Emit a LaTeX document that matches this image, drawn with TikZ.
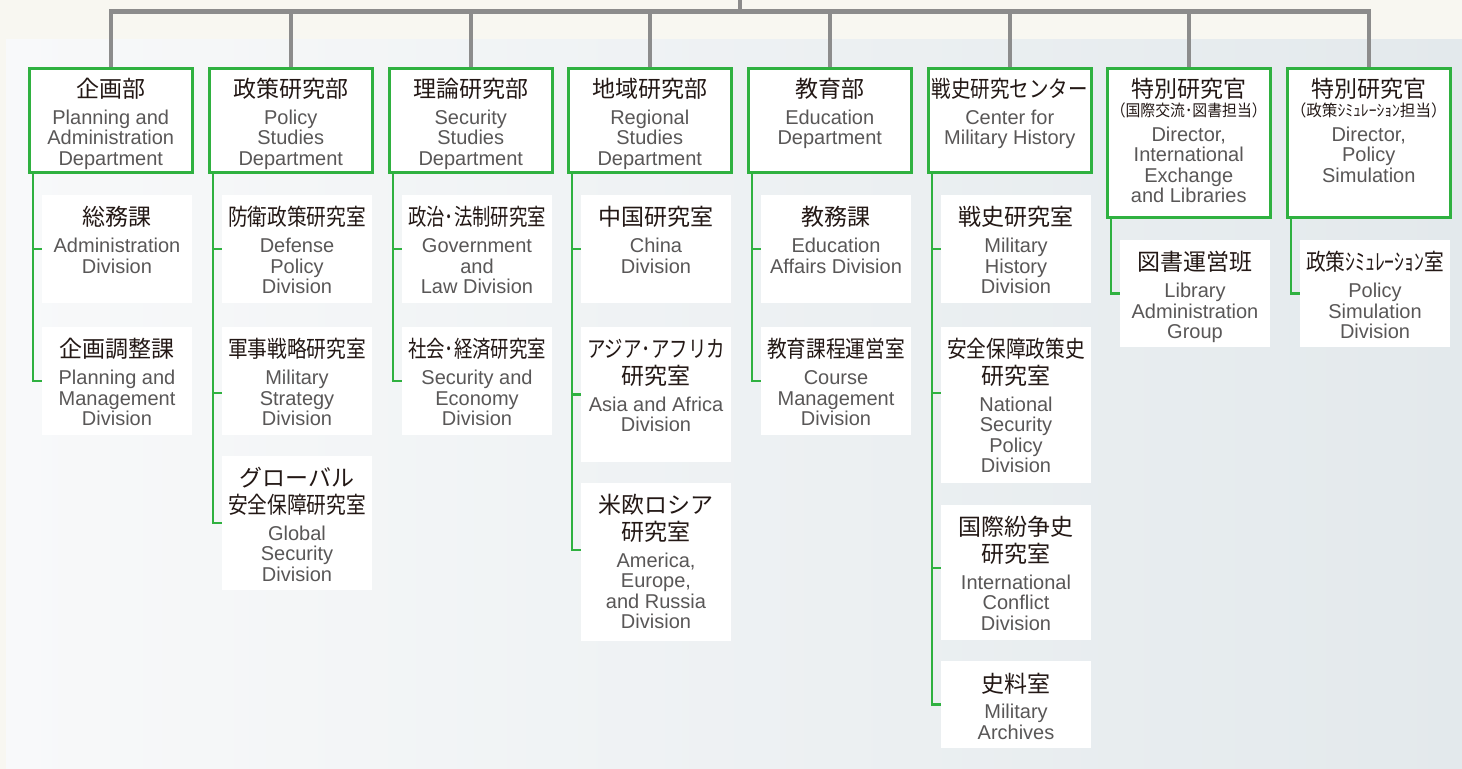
\documentclass[tikz,border=0pt]{standalone}
\usepackage{fontspec}
\usepackage{graphicx}
\setmainfont{Liberation Sans}
\newfontfamily\jpfont{Noto Sans CJK JP}
\usetikzlibrary{positioning}

\definecolor{lineGreen}{HTML}{2FB140}
\definecolor{linkGray}{HTML}{8C8C8C}
\definecolor{jpInk}{HTML}{231815}
\definecolor{enInk}{HTML}{595757}
\definecolor{paper}{HTML}{F8F7F1}
\definecolor{panelL}{HTML}{F8F9FA}
\definecolor{panelR}{HTML}{E3E9EC}

\newsavebox\fitbox
\newcommand\jpmax{69pt}
\newcommand\fitw[2]{\sbox\fitbox{#2}\ifdim\wd\fitbox>#1\relax\resizebox{#1}{\height}{\usebox\fitbox}\else\usebox\fitbox\fi}
\newcommand\jt[1]{{\jpfont\fontsize{11.5pt}{13.25pt}\selectfont\color{jpInk}\fitw{\jpmax}{#1}\par}}
\newcommand\jsub[1]{{\jpfont\fontsize{8pt}{9.5pt}\selectfont\color{jpInk}\fitw{78pt}{#1}\par}}
\newcommand\et[2][3.1pt]{\par\vspace{#1}{\fontsize{10pt}{10.25pt}\selectfont\color{enInk}#2\par}}

\begin{document}
\begin{tikzpicture}[x=0.5pt,y=-0.5pt,outer sep=0pt,
	dept/.style={draw=lineGreen, line width=1.5pt, fill=white, inner sep=0pt, anchor=north west,
		execute at begin node={\begin{minipage}[c][#1][t]{81.25pt}\centering\def\jpmax{78pt}\rule{0pt}{14.5pt}},
		execute at end node={\end{minipage}}},
	sub/.style={fill=white, inner sep=0pt,
		execute at begin node={\begin{minipage}[c][#1][t]{75pt}\centering\rule{0pt}{15.5pt}},
		execute at end node={\end{minipage}}},
	grayline/.style={draw=linkGray, line width=2.2pt, line join=miter},
	greenline/.style={draw=lineGreen, line width=1.2pt}]
	
	\useasboundingbox (0,0) rectangle (1462,769);
	\fill[paper] (0,0) rectangle (1462,769);
	\shade[left color=panelL, right color=panelR] (6,40) rectangle (1462,769);
	
	% departments
	\node (d1) [dept=52.25pt] at (29.5,68.5) {\jt{企画部}\et{Planning and\\Administration\\Department}};
	\node (d2) [dept=52.25pt] at (209.5,68.5) {\jt{政策研究部}\et{Policy\\Studies\\Department}};
	\node (d3) [dept=52.25pt] at (389.5,68.5) {\jt{理論研究部}\et{Security\\Studies\\Department}};
	\node (d4) [dept=52.25pt] at (568.5,68.5) {\jt{地域研究部}\et{Regional\\Studies\\Department}};
	\node (d5) [dept=52.25pt] at (748.5,68.5) {\jt{教育部}\et{Education\\Department}};
	\node (d6) [dept=52.25pt] at (928.5,68.5) {\jt{戦史研究センター}\et{Center for\\Military History}};
	\node (d7) [dept=74.5pt] at (1107.5,68.5) {\jt{特別研究官}\jsub{（国際交流･図書担当）}\et[2.1pt]{Director,\\International\\Exchange\\and Libraries}};
	\node (d8) [dept=74.5pt] at (1287.5,68.5) {\jt{特別研究官}\jsub{（政策ｼﾐｭﾚｰｼｮﾝ担当）}\et[2.1pt]{Director,\\Policy\\Simulation}};
	
	% divisions
	\node (s11) [sub=54pt, below=11pt of d1.south east, anchor=north east] {\jt{総務課}\et{Administration\\Division}};
	\node (s12) [sub=54pt, below=12pt of s11] {\jt{企画調整課}\et{Planning and\\Management\\Division}};
	
	\node (s21) [sub=54pt, below=11pt of d2.south east, anchor=north east] {\jt{防衛政策研究室}\et{Defense\\Policy\\Division}};
	\node (s22) [sub=54pt, below=12pt of s21] {\jt{軍事戦略研究室}\et{Military\\Strategy\\Division}};
	\node (s23) [sub=67pt, below=10.5pt of s22] {\jt{グローバル}\jt{安全保障研究室}\et{Global\\Security\\Division}};
	
	\node (s31) [sub=54pt, below=11pt of d3.south east, anchor=north east] {\jt{政治･法制研究室}\et{Government\\and\\Law Division}};
	\node (s32) [sub=54pt, below=12pt of s31] {\jt{社会･経済研究室}\et{Security and\\Economy\\Division}};
	
	\node (s41) [sub=54pt, below=11pt of d4.south east, anchor=north east] {\jt{中国研究室}\et{China\\Division}};
	\node (s42) [sub=67.5pt, below=12pt of s41] {\jt{アジア･アフリカ}\jt{研究室}\et{Asia and Africa\\Division}};
	\node (s43) [sub=79pt, below=10.5pt of s42] {\jt{米欧ロシア}\jt{研究室}\et{America,\\Europe,\\and Russia\\Division}};
	
	\node (s51) [sub=54pt, below=11pt of d5.south east, anchor=north east] {\jt{教務課}\et{Education\\Affairs Division}};
	\node (s52) [sub=54pt, below=12pt of s51] {\jt{教育課程運営室}\et{Course\\Management\\Division}};
	
	\node (s61) [sub=54pt, below=11pt of d6.south east, anchor=north east] {\jt{戦史研究室}\et{Military\\History\\Division}};
	\node (s62) [sub=78pt, below=12pt of s61] {\jt{安全保障政策史}\jt{研究室}\et{National\\Security\\Policy\\Division}};
	\node (s63) [sub=67.5pt, below=11pt of s62] {\jt{国際紛争史}\jt{研究室}\et{International\\Conflict\\Division}};
	\node (s64) [sub=43.5pt, below=10.5pt of s63] {\jt{史料室}\et{Military\\Archives}};
	
	\node (s71) [sub=53.5pt, below=11.25pt of d7.south east, anchor=north east] {\jt{図書運営班}\et{Library\\Administration\\Group}};
	\node (s81) [sub=53.5pt, below=11.25pt of d8.south east, anchor=north east] {\jt{政策ｼﾐｭﾚｰｼｮﾝ室}\et{Policy\\Simulation\\Division}};
	
	% gray bus
	\coordinate (root) at (740,0);
	\coordinate (bus) at (740,11.7);
	\draw[grayline] (root) -- (bus);
	\draw[grayline, shorten <=0.75pt, shorten >=0.75pt] (d1.north) -- (d1.north |- bus) -- (d8.north |- bus) -- (d8.north);
	\foreach \i in {2,...,7}
		\draw[grayline, shorten >=0.75pt] (d\i.north |- bus) -- (d\i.north);
	
	% green trees
	\foreach \i in {1,...,8}
		\coordinate (r\i) at ([xshift=1.75pt]d\i.south west);
	\draw[greenline] (r1) |- (s11.west) (r1) |- (s12.west);
	\draw[greenline] (r2) |- (s21.west) (r2) |- ([yshift=-6pt]s22.west) (r2) |- (s23.west);
	\draw[greenline] (r3) |- (s31.west) (r3) |- (s32.west);
	\draw[greenline] (r4) |- (s41.west) (r4) |- (s42.west) (r4) |- ([yshift=6pt]s43.west);
	\draw[greenline] (r5) |- (s51.west) (r5) |- (s52.west);
	\draw[greenline] (r6) |- (s61.west) (r6) |- ([yshift=6pt]s62.west) (r6) |- ([yshift=2.25pt]s63.west) (r6) |- (s64.west);
	\draw[greenline] (r7) |- (s71.west);
	\draw[greenline] (r8) |- (s81.west);
	
\end{tikzpicture}
\end{document}
